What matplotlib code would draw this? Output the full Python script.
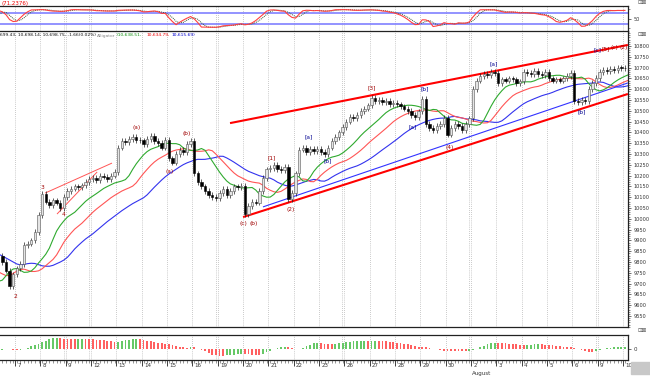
import numpy as np
import pandas as pd
import matplotlib
matplotlib.use("Agg")
import matplotlib.pyplot as plt
from matplotlib.patches import Rectangle
from matplotlib.ticker import MultipleLocator, FixedLocator

# ---------------- data ----------------
# hourly closes before the visible window (Jun 29 - Jul 6 morning)
pre_closes = [10130, 10060, 10010, 9960, 9910, 9880, 9870,
              9860, 9840, 9820, 9800, 9790, 9780, 9774,
              9740, 9700, 9660, 9690, 9720, 9710, 9732,
              9760, 9740, 9720, 9700, 9690, 9680, 9686,
              9790, 9840, 9830]
first_open = 10140
# visible hourly closes (Jul 6 afternoon ... Aug 10)
closes = [9800, 9760, 9690, 9743,
          9770, 9790, 9880, 9885, 9900, 9940, 10018,
          10115, 10080, 10065, 10085, 10075, 10050, 10100,
          10130, 10140, 10150, 10145, 10155, 10170, 10185,
          10190, 10180, 10200, 10195, 10185, 10200, 10216,
          10330, 10360, 10355, 10370, 10380, 10365, 10363,
          10345, 10370, 10385, 10360, 10350, 10330, 10366,
          10280, 10260, 10300, 10320, 10310, 10345, 10359,
          10210, 10170, 10150, 10130, 10110, 10100, 10097,
          10120, 10140, 10110, 10130, 10150, 10145, 10154,
          10020, 10060, 10080, 10075, 10130, 10190, 10229,
          10235, 10250, 10230, 10225, 10240, 10090, 10120,
          10210, 10320, 10330, 10310, 10325, 10315, 10322,
          10310, 10300, 10330, 10360, 10380, 10400, 10424,
          10450, 10470, 10465, 10480, 10500, 10510, 10525,
          10560, 10545, 10550, 10540, 10545, 10530, 10537,
          10530, 10520, 10510, 10500, 10480, 10470, 10497,
          10555, 10440, 10420, 10410, 10430, 10440, 10467,
          10390, 10420, 10440, 10430, 10410, 10440, 10465,
          10600, 10640, 10660, 10670, 10665, 10680, 10674,
          10630, 10645, 10640, 10650, 10645, 10630, 10636,
          10680, 10675, 10670, 10685, 10670, 10665, 10680,
          10650, 10640, 10645, 10640, 10650, 10660, 10675,
          10545, 10540, 10550, 10545, 10600, 10630, 10653,
          10680, 10690, 10685, 10695, 10690, 10700, 10698,
          10697]
WICK = 13
bars_first_day = 4
bars_per_day = 7
day_labels = ['7', '8', '9', '12', '13', '14', '15', '16', '19', '20', '21', '22', '23',
              '26', '27', '28', '29', '30', '2', '3', '4', '5', '6', '9', '10']
mondays = ['12', '19', '26', '2', '9']
month_label = ('August', 18)

# wave labels: (text, bar index, price, colour key)
wave_labels = [("3", 11.2, 10143, 'r'), ("4", 16.8, 10022, 'r'), ("2", 3.5, 9638, 'r'),
               ("(a)", 37.2, 10425, 'r'), ("(a)", 46.3, 10217, 'r'), ("(b)", 51.0, 10397, 'r'),
               ("(c)", 66.5, 9976, 'r'), ("(b)", 69.3, 9976, 'r'), ("[1]", 74.5, 10281, 'r'),
               ("(2)", 79.7, 10041, 'r'), ("[a]", 84.7, 10379, 'b'), ("[b]", 90.0, 10268, 'b'),
               ("[3]", 102.1, 10606, 'r'), ("[a]", 113.4, 10425, 'b'), ("[b]", 116.8, 10601, 'b'),
               ("(4)", 123.7, 10328, 'r'), ("[a]", 135.8, 10717, 'b'), ("[b]", 160.1, 10494, 'b'),
               ("[c]", 164.4, 10781, 'b'), ("[5]", 166.7, 10786, 'r'), ("(c)", 169.0, 10791, 'r'),
               ("(2)", 171.7, 10795, 'r')]
# trend lines: ((bar, price), (bar, price), colour, width)
trend_lines = [((62.9, 10443), (172.8, 10805), '#ff0000', 1.5),
               ((66.5, 10008), (172.8, 10578), '#ff0000', 1.5),
               ((72.0, 10055), (172.8, 10629), '#3333ff', 0.8),
               ((11.8, 10119), (30.3, 10258), '#ff5555', 0.7),
               ((15.1, 10022), (26.2, 10217), '#ff5555', 0.7)]

header_value = "(71.2376)"
header_ohlc = "699.43, 10,698.14, 10,698.75, -1.66(0.02%)"
header_alligator = ["(10,638.51,", "10,634.79,", "10,615.69)"]

# ---------------- computations ----------------
c_all = np.array(pre_closes + closes, dtype=float)
npre = len(pre_closes)
o_all = np.r_[first_open, c_all[:-1]]
h_all = np.maximum(o_all, c_all) + WICK
l_all = np.minimum(o_all, c_all) - WICK
x_all = np.arange(len(c_all)) - npre
med = (h_all + l_all) / 2


def smma(v, n):
    out = np.empty(len(v))
    out[0] = v[0]
    for t in range(1, len(v)):
        out[t] = (out[t - 1] * (n - 1) + v[t]) / n
    return out


jaw, teeth, lips = smma(med, 13), smma(med, 8), smma(med, 5)

hs, ls, cs = pd.Series(h_all), pd.Series(l_all), pd.Series(c_all)
hh = hs.rolling(14, min_periods=1).max()
ll = ls.rolling(14, min_periods=1).min()
rawk = 100 * (cs - ll) / (hh - ll)
stk = rawk.rolling(3, min_periods=1).mean()
std = stk.rolling(3, min_periods=1).mean()

ms = pd.Series(med)
ao = (ms.rolling(5, min_periods=1).mean() - ms.rolling(34, min_periods=1).mean()).values
ao_up = np.r_[True, ao[1:] >= ao[:-1]]

# ---------------- layout ----------------
W, H = 650, 376
fig = plt.figure(figsize=(6.5, 3.76), dpi=100)
fig.patch.set_facecolor('white')


def fx(p):
    return p / W


def fy(p):
    return 1 - p / H


PX_PER_BAR = 3.62
X0 = 15.0
xl = (3.5 - X0 / PX_PER_BAR, 3.5 + (628 - X0) / PX_PER_BAR)

ax_osc = fig.add_axes([0, fy(32), fx(628), (32 - 6) / H])
ax = fig.add_axes([0, fy(327), fx(628), (327 - 31) / H])
ax_ao = fig.add_axes([0, fy(360), fx(628), (360 - 335) / H])

n_days = len(day_labels)
bounds = np.array([bars_first_day - 0.5 + bars_per_day * k for k in range(n_days)])

for a in (ax_osc, ax, ax_ao):
    a.set_xlim(*xl)
    a.set_facecolor('white')
    for s in ('top', 'bottom', 'right'):
        a.spines[s].set_linewidth(0.9)
        a.spines[s].set_color('#222222')
    a.spines['left'].set_visible(False)
    a.yaxis.tick_right()
    a.tick_params(axis='y', which='major', length=2.5, width=0.5, pad=1.5,
                  labelsize=3.6, colors='#333333')
    a.tick_params(axis='y', which='minor', length=1.2, width=0.4, colors='#333333')
    a.tick_params(axis='x', which='both', bottom=False, labelbottom=False)
    for k, b in enumerate(bounds):
        a.axvline(b, color='#9a9a9a', lw=0.5, ls=(0, (1, 2)), zorder=0)
        if day_labels[k] in mondays:
            a.axvline(b - 0.6, color='#9a9a9a', lw=0.5, ls=(0, (1, 2)), zorder=0)

# ---------------- oscillator panel ----------------
ax_osc.set_ylim(-20, 115)
ax_osc.axhline(80, color='#8080ff', lw=1.2, zorder=1)
ax_osc.axhline(20, color='#8080ff', lw=1.2, zorder=1)
ax_osc.plot(x_all, std, color='#335533', lw=0.7, ls=(0, (1, 1)), zorder=2)
ax_osc.plot(x_all, stk, color='#ff4040', lw=0.8, zorder=3)
ax_osc.set_yticks([50])
ax_osc.yaxis.set_minor_locator(FixedLocator([0, 100]))

# ---------------- main panel ----------------
px_per_pt = 270 / 1250
ax.set_ylim(9550 - (327 - 316) / px_per_pt, 10800 + (46 - 31) / px_per_pt)
ax.set_yticks(np.arange(9550, 10801, 50))
ax.yaxis.set_minor_locator(MultipleLocator(10))

ax.plot(x_all + 8, jaw, color='#3333ee', lw=0.8, zorder=2)
ax.plot(x_all + 5, teeth, color='#ff5555', lw=0.8, zorder=2)
ax.plot(x_all + 3, lips, color='#2faa2f', lw=0.8, zorder=2)

for (p1, p2, col, lw) in trend_lines:
    ax.plot([p1[0], p2[0]], [p1[1], p2[1]], color=col, lw=lw, zorder=3,
            solid_capstyle='butt')

vis = x_all >= 0
xv, ov, cv, hv, lv = x_all[vis], o_all[vis], c_all[vis], h_all[vis], l_all[vis]
up = cv >= ov
ax.vlines(xv, lv, hv, color='#222222', lw=0.5, zorder=4)
body_b = np.minimum(ov, cv)
body_h = np.maximum(np.abs(cv - ov), 3)
ax.bar(xv[up], body_h[up], bottom=body_b[up], width=0.66, color='#e4e4e4',
       edgecolor='#555555', linewidth=0.4, zorder=5)
ax.bar(xv[~up], body_h[~up], bottom=body_b[~up], width=0.66, color='#000000',
       edgecolor='#000000', linewidth=0.4, zorder=5)

cols = {'r': '#a00000', 'b': '#000090'}
for txt, bi, pr, ck in wave_labels:
    ax.text(bi, pr, txt, color=cols[ck], fontsize=4.2, ha='center', va='center', zorder=6)

# ---------------- AO panel ----------------
amax = np.abs(ao[vis]).max()
ax_ao.set_ylim(-amax * 1.0, amax * 1.27)
ax_ao.bar(x_all[ao_up], ao[ao_up], width=0.5, color='#66c866', linewidth=0, zorder=2)
ax_ao.bar(x_all[~ao_up], ao[~ao_up], width=0.5, color='#ff6060', linewidth=0, zorder=2)
ax_ao.set_yticks([0])
ax_ao.tick_params(axis='y', which='major', labelsize=4)

ax_ao.tick_params(axis='x', which='major', bottom=True, length=4, width=0.6,
                  direction='out', color='#222222')
ax_ao.tick_params(axis='x', which='minor', bottom=True, length=2, width=0.4,
                  direction='out', color='#444444')
ax_ao.xaxis.set_major_locator(FixedLocator(bounds))
ax_ao.xaxis.set_minor_locator(FixedLocator(np.arange(0, len(closes))))
for k, b in enumerate(bounds):
    ax_ao.text(b + 0.6, -0.12, day_labels[k], transform=ax_ao.get_xaxis_transform(),
               fontsize=4, ha='left', va='top', color='#333333')
ax_ao.text(bounds[month_label[1]] + 0.1, -0.42, month_label[0],
           transform=ax_ao.get_xaxis_transform(), fontsize=4, ha='left', va='top',
           color='#333333')

# ---------------- header texts ----------------
fig.text(fx(2), fy(3), header_value, color='#ee0000', fontsize=4, va='center', ha='left')
fig.text(fx(0), fy(35.5), header_ohlc, color='#111111', fontsize=3.2, va='center', ha='left')
fig.text(fx(97), fy(35.5), "Alligator", color='#888888', fontsize=3.2, va='center', ha='left')
for t, col, px in zip(header_alligator, ['#109010', '#ee0000', '#0000cc'], [117, 147, 172]):
    fig.text(fx(px), fy(35.5), t, color=col, fontsize=3.2, va='center', ha='left')
for py in (3, 35, 331):
    fig.text(fx(637), fy(py), "\u22a1\u22a0", color='#555555', fontsize=4, va='center', ha='left')

fig.patches.append(Rectangle((fx(631), fy(374)), fx(19), (374 - 362) / H,
                             transform=fig.transFigure, color='#c8c8c8', zorder=0))

fig.savefig("out.png", dpi=100)
